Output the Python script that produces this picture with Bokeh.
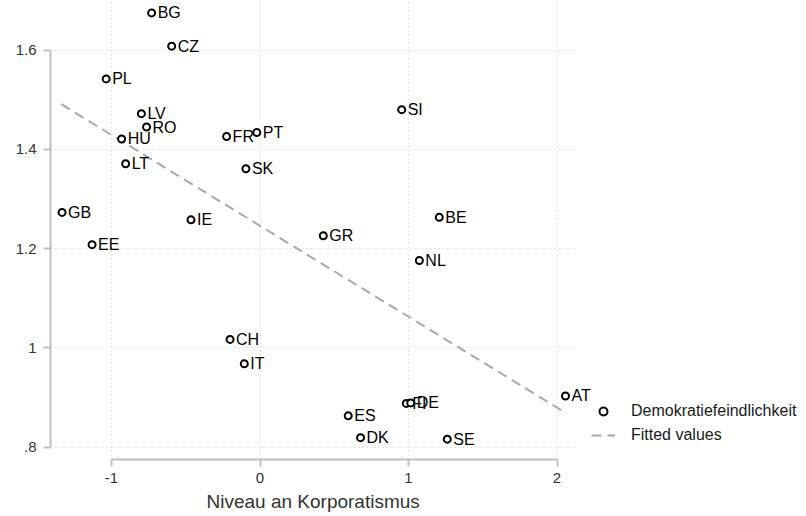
from bokeh.plotting import figure
from bokeh.models import (ColumnDataSource, LabelSet, Legend, LegendItem, Title,
                          FixedTicker, CustomJSTickFormatter)
from bokeh.core.properties import value
from bokeh.embed import file_html
from bokeh.resources import INLINE

# ---- data ----
countries = ["BG", "CZ", "PL", "LV", "RO", "HU", "LT", "FR", "PT", "SK",
             "SI", "GB", "EE", "IE", "GR", "BE", "NL", "CH", "IT", "FI",
             "DE", "AT", "ES", "DK", "SE"]
korporatismus = [-0.730, -0.595, -1.036, -0.799, -0.764, -0.932, -0.905, -0.225, -0.022, -0.095,
                 0.954, -1.333, -1.131, -0.465, 0.426, 1.207, 1.073, -0.202, -0.106, 0.985,
                 1.015, 2.057, 0.594, 0.677, 1.261]
demokratiefeindlichkeit = [1.675, 1.608, 1.542, 1.472, 1.445, 1.421, 1.371, 1.426, 1.434, 1.361,
                           1.480, 1.273, 1.208, 1.258, 1.226, 1.263, 1.176, 1.017, 0.968, 0.888,
                           0.889, 0.903, 0.863, 0.819, 0.816]
fit_x = [-1.338, 2.047]
fit_y = [1.491, 0.871]
x_ticks = [-1, 0, 1, 2]
y_ticks = [0.8, 1.0, 1.2, 1.4, 1.6]
x_title = "Niveau an Korporatismus"

FONT = "Liberation Sans"
TXT = "#333333"
AXIS = "#c0c0c0"
GRID = "#cccccc"

X_START, X_END = -1.411, 3.680      # frame spans the full width (legend sits inside it)
PLOT_X_END = 2.125                  # right edge of the gridded plot region
Y_START, Y_END = 0.775, 1.700

src = ColumnDataSource(dict(x=korporatismus, y=demokratiefeindlichkeit, name=countries))
fit_src = ColumnDataSource(dict(x=fit_x, y=fit_y))

p = figure(width=806, height=516, x_range=(X_START, X_END), y_range=(Y_START, Y_END),
           output_backend="svg", toolbar_location=None,
           min_border_left=50, min_border_right=0, min_border_top=0, min_border_bottom=57)
p.outline_line_color = None
p.background_fill_color = "white"
p.border_fill_color = "white"

# axes
p.xaxis.ticker = FixedTicker(ticks=x_ticks)
p.yaxis.ticker = FixedTicker(ticks=y_ticks)
p.xaxis.bounds = (min(x_ticks), max(x_ticks))
p.yaxis.bounds = (min(y_ticks), max(y_ticks))
p.xaxis.formatter = CustomJSTickFormatter(code="return tick.toFixed(0);")
p.yaxis.formatter = CustomJSTickFormatter(
    code="return tick.toFixed(1).replace(/^0/, '').replace(/\\.0$/, '');")
for ax in (p.xaxis, p.yaxis):
    ax.axis_line_color = AXIS
    ax.axis_line_width = 2
    ax.major_tick_line_color = AXIS
    ax.major_tick_line_width = 2
    ax.major_tick_out = 7
    ax.major_tick_in = 0
    ax.minor_tick_line_color = None
    ax.major_label_text_font = FONT
    ax.major_label_text_font_size = "15px"
    ax.major_label_text_color = TXT
p.xaxis.major_label_standoff = 6
p.yaxis.major_label_standoff = 7

# x-axis title, centred under the plot region (not under the legend area)
p.add_layout(Title(text=x_title, align="left", offset=156, standoff=6,
                   text_font=FONT, text_font_size="19px", text_font_style="normal",
                   text_color=TXT), "below")

# grid (limited to the plot region, not the legend area)
p.xgrid.ticker = FixedTicker(ticks=x_ticks)
p.ygrid.ticker = FixedTicker(ticks=y_ticks)
for g in (p.xgrid, p.ygrid):
    g.grid_line_color = GRID
    g.grid_line_dash = "1 3"
    g.grid_line_width = 1
p.ygrid.cross_bounds = (X_START, PLOT_X_END)

# fitted line
fit_r = p.line("x", "y", source=fit_src, line_color="#a8a8a8", line_width=2, line_dash="10 6")

# points
pts = p.scatter("x", "y", source=src, marker="circle", size=7, fill_color="white",
                line_color="black", line_width=2)

labels = LabelSet(x="x", y="y", text="name", source=src, x_offset=6, y_offset=0,
                  text_baseline="middle", text_font=value(FONT), text_font_size=value("16px"),
                  text_color=value("black"))
p.add_layout(labels)

legend = Legend(items=[LegendItem(label="Demokratiefeindlichkeit", renderers=[pts]),
                       LegendItem(label="Fitted values", renderers=[fit_r])],
                location=(541, 14), margin=0, padding=7, spacing=4,
                glyph_width=24, glyph_height=20, label_height=20, label_standoff=16,
                label_text_font=FONT, label_text_font_size="16px", label_text_color="#1a1a1a",
                border_line_color=None, background_fill_color="white", background_fill_alpha=1)
p.add_layout(legend)

open("out.html", "w").write(file_html(p, INLINE))
